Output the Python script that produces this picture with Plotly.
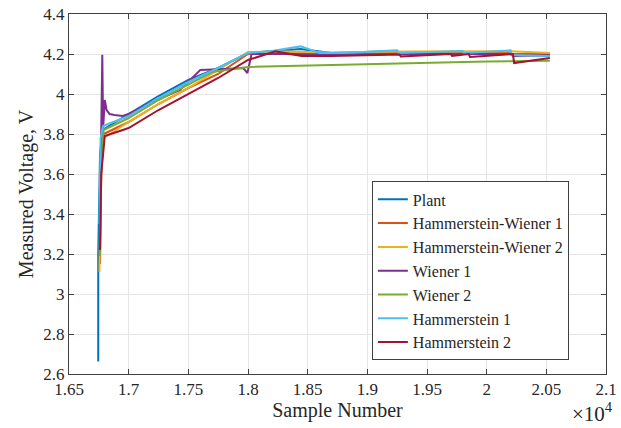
import plotly.graph_objects as go

# ---- data (sample number, measured voltage) ----
plant_x = [16745, 16745, 16760, 16780, 17000, 17250, 17500, 17750, 18000, 18440, 18700, 19250, 19260, 19800, 19810, 20200, 20210, 20530]
plant_y = [2.663, 3.20, 3.70, 3.82, 3.90, 3.99, 4.07, 4.13, 4.205, 4.225, 4.205, 4.215, 4.205, 4.212, 4.203, 4.212, 4.195, 4.192]

hw1_x = [16760, 16770, 16790, 17000, 17250, 17500, 17750, 18000, 18300, 18700, 19250, 19260, 19800, 20200, 20210, 20530]
hw1_y = [3.15, 3.60, 3.80, 3.86, 3.95, 4.03, 4.10, 4.20, 4.205, 4.200, 4.205, 4.198, 4.205, 4.208, 4.200, 4.200]

hw2_x = [16755, 16765, 16790, 17000, 17250, 17500, 17750, 18000, 18300, 18700, 19250, 19800, 20200, 20530]
hw2_y = [3.11, 3.60, 3.78, 3.86, 3.95, 4.03, 4.12, 4.21, 4.212, 4.208, 4.212, 4.212, 4.214, 4.205]

w1_x = [16760, 16770, 16779, 16786, 16800, 16815, 16840, 16880, 16950, 17000, 17200, 17430, 17600, 17800, 17960, 17995, 18030, 18300, 18700, 19250, 19800, 20200, 20220, 20530]
w1_y = [3.39, 3.80, 4.196, 3.83, 3.97, 3.92, 3.90, 3.895, 3.89, 3.90, 3.96, 4.02, 4.12, 4.125, 4.13, 4.105, 4.20, 4.20, 4.195, 4.20, 4.20, 4.20, 4.19, 4.195]

w2_x = [16760, 16770, 16790, 17000, 17250, 17500, 17700, 18000, 18500, 19000, 19500, 20000, 20530]
w2_y = [3.19, 3.60, 3.82, 3.88, 3.97, 4.05, 4.11, 4.135, 4.142, 4.15, 4.157, 4.162, 4.166]

h1_x = [16755, 16758, 16765, 16785, 17000, 17250, 17500, 17750, 18000, 18200, 18440, 18600, 18800, 19250, 19260, 19800, 19810, 20200, 20210, 20530]
h1_y = [3.35, 3.66, 3.78, 3.84, 3.89, 3.98, 4.06, 4.13, 4.205, 4.215, 4.238, 4.205, 4.205, 4.218, 4.205, 4.215, 4.205, 4.218, 4.195, 4.190]

h2_x = [16760, 16770, 16800, 17000, 17250, 17500, 17750, 18000, 18230, 18450, 18700, 19270, 19280, 19700, 19710, 19850, 19860, 20220, 20230, 20530]
h2_y = [3.22, 3.60, 3.79, 3.83, 3.92, 4.00, 4.08, 4.17, 4.213, 4.19, 4.19, 4.198, 4.188, 4.200, 4.190, 4.200, 4.185, 4.200, 4.155, 4.180]

x_ticks = [16500, 17000, 17500, 18000, 18500, 19000, 19500, 20000, 20500, 21000]
x_tick_text = ["1.65", "1.7", "1.75", "1.8", "1.85", "1.9", "1.95", "2", "2.05", "2.1"]
y_ticks = [2.6, 2.8, 3.0, 3.2, 3.4, 3.6, 3.8, 4.0, 4.2, 4.4]
y_tick_text = ["2.6", "2.8", "3", "3.2", "3.4", "3.6", "3.8", "4", "4.2", "4.4"]

series = [
    ("Plant", plant_x, plant_y, "#0072BD"),
    ("Hammerstein-Wiener 1", hw1_x, hw1_y, "#D95319"),
    ("Hammerstein-Wiener 2", hw2_x, hw2_y, "#EDB120"),
    ("Wiener 1", w1_x, w1_y, "#7E2F8E"),
    ("Wiener 2", w2_x, w2_y, "#77AC30"),
    ("Hammerstein 1", h1_x, h1_y, "#4DBEEE"),
    ("Hammerstein 2", h2_x, h2_y, "#A2142F"),
]

fig = go.Figure()
for name, xs, ys, col in series:
    fig.add_trace(go.Scatter(x=xs, y=ys, mode="lines", name=name,
                             line=dict(color=col, width=2)))

font = "Liberation Serif, Times New Roman, serif"
axis_common = dict(showline=True, linecolor="#404040", linewidth=1, mirror="ticks",
                   ticks="inside", ticklen=5, tickcolor="#404040",
                   showgrid=True, gridcolor="#E6E6E6", gridwidth=1, zeroline=False,
                   automargin=False,
                   tickfont=dict(family=font, size=17, color="#262626"))

fig.update_layout(
    width=621, height=428,
    margin=dict(l=69, r=15, t=14, b=54),
    paper_bgcolor="white", plot_bgcolor="white",
    font=dict(family=font, color="#262626"),
    xaxis=dict(range=[16500, 21000], tickvals=x_ticks, ticktext=x_tick_text,
               title=dict(text="Sample Number", font=dict(family=font, size=20), standoff=2),
               **axis_common),
    yaxis=dict(range=[2.6, 4.4], tickvals=y_ticks, ticktext=y_tick_text,
               title=dict(text="Measured Voltage, V", font=dict(family=font, size=20), standoff=4),
               **axis_common),
    legend=dict(x=0.564, y=0.535, xanchor="left", yanchor="top",
                bgcolor="white", bordercolor="#404040", borderwidth=1,
                font=dict(family=font, size=16, color="#262626"),
                tracegroupgap=0),
    showlegend=True,
    annotations=[dict(text="×10<sup>4</sup>", xref="paper", yref="paper",
                      x=1.017, y=-0.15, xanchor="right", yanchor="bottom", showarrow=False,
                      font=dict(family=font, size=21, color="#262626"))],
)

fig.write_html("out.html", config={"displayModeBar": False},
               post_script="document.body.style.margin='0px';")
